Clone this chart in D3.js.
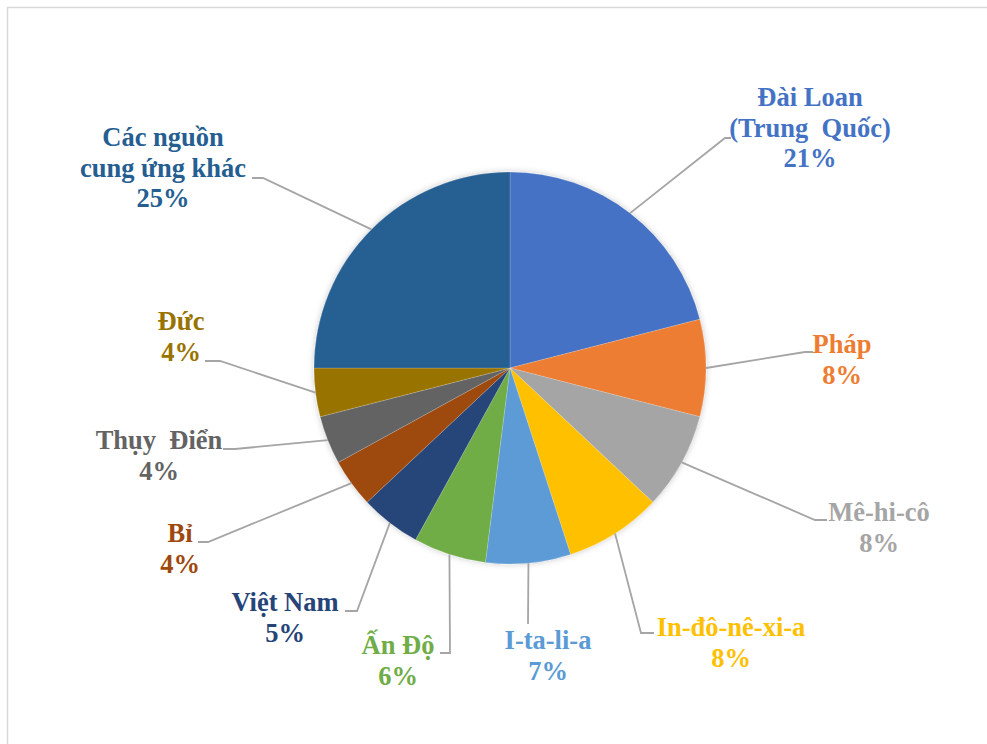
<!DOCTYPE html>
<html>
<head>
<meta charset="utf-8">
<script src="https://cdn.jsdelivr.net/npm/d3@7"></script>
<style>
  html, body { margin: 0; padding: 0; background: #ffffff; }
  svg { display: block; }
  .lbl { font-family: "Liberation Serif", "Times New Roman", serif; font-weight: 700; font-size: 26.5px; white-space: pre; }
</style>
</head>
<body>
<svg id="chart" width="987" height="744"></svg>
<script>
// Supplier shares (%), listed clockwise from 12 o'clock
const categories = [
  "Đài Loan\n(Trung  Quốc)", "Pháp", "Mê-hi-cô", "In-đô-nê-xi-a", "I-ta-li-a",
  "Ấn Độ", "Việt Nam", "Bỉ", "Thụy  Điển", "Đức", "Các nguồn\ncung ứng khác"
];
const shares = [21, 8, 8, 8, 7, 6, 5, 4, 4, 4, 25];
const colors = [
  "#4472C4", "#ED7D31", "#A5A5A5", "#FFC000", "#5B9BD5",
  "#70AD47", "#264478", "#9E480E", "#636363", "#997300", "#255E91"
];

// Label placement: text centre x, first baseline y, leader elbow and end points
const labelAnchors = [
  { x: 810, y: 106, bend: [725, 138], end: [731, 138] },
  { x: 842, y: 353, bend: [805, 352], end: [813, 352] },
  { x: 879, y: 521, bend: [815, 520], end: [827, 520] },
  { x: 731, y: 636, bend: [641, 633], end: [654, 633] },
  { x: 548, y: 649, bend: null,       end: [528, 624] },
  { x: 398, y: 654, bend: [450, 653], end: [440, 653] },
  { x: 285, y: 611, bend: [357, 611], end: [345, 611] },
  { x: 180, y: 542, bend: [208, 542], end: [198, 542] },
  { x: 159, y: 449, bend: [235, 449], end: [223, 449] },
  { x: 181, y: 330, bend: [220, 361], end: [205, 361] },
  { x: 163, y: 146, bend: [263, 178], end: [252, 178] }
];

const svg = d3.select("#chart");
const cx = 510, cy = 368, radius = 196;
const lineGap = 30.5;

// chart frame
svg.append("rect")
  .attr("x", 7.5).attr("y", 7.5)
  .attr("width", 1000).attr("height", 760)
  .attr("fill", "#ffffff")
  .attr("stroke", "#d9d9d9")
  .attr("stroke-width", 1.5);

// soft outer shadow around the pie
const defs = svg.append("defs");
const shadow = defs.append("filter").attr("id", "pieShadow")
  .attr("x", "-20%").attr("y", "-20%").attr("width", "140%").attr("height", "140%");
shadow.append("feDropShadow")
  .attr("dx", 0).attr("dy", 0).attr("stdDeviation", 3)
  .attr("flood-color", "#000").attr("flood-opacity", 0.22);

const pie = d3.pie().sort(null).value(d => d)(shares);
const arc = d3.arc().innerRadius(0).outerRadius(radius);

const g = svg.append("g").attr("transform", `translate(${cx},${cy})`);

g.append("g").attr("filter", "url(#pieShadow)")
  .selectAll("path")
  .data(pie)
  .join("path")
  .attr("d", arc)
  .attr("fill", (d, i) => colors[i])
  .attr("stroke", "rgba(255,255,255,0.3)")
  .attr("stroke-width", 0.6);

// leader lines from slice edge to label
const leaders = svg.append("g")
  .attr("fill", "none")
  .attr("stroke", "#a5a5a5")
  .attr("stroke-width", 1.8);

pie.forEach((d, i) => {
  const a = (d.startAngle + d.endAngle) / 2;
  const start = [cx + radius * Math.sin(a), cy - radius * Math.cos(a)];
  const L = labelAnchors[i];
  const pts = [start];
  if (L.bend) pts.push(L.bend);
  pts.push(L.end);
  leaders.append("path").attr("d", d3.line()(pts));
});

// labels: category name lines followed by the percentage
const labels = svg.append("g").attr("text-anchor", "middle");

categories.forEach((name, i) => {
  const L = labelAnchors[i];
  const lines = name.split("\n").concat([`${shares[i]}%`]);
  const t = labels.append("text")
    .attr("class", "lbl")
    .attr("fill", colors[i]);
  lines.forEach((s, k) => {
    t.append("tspan").attr("x", L.x).attr("y", L.y + k * lineGap).text(s);
  });
});
</script>
</body>
</html>
